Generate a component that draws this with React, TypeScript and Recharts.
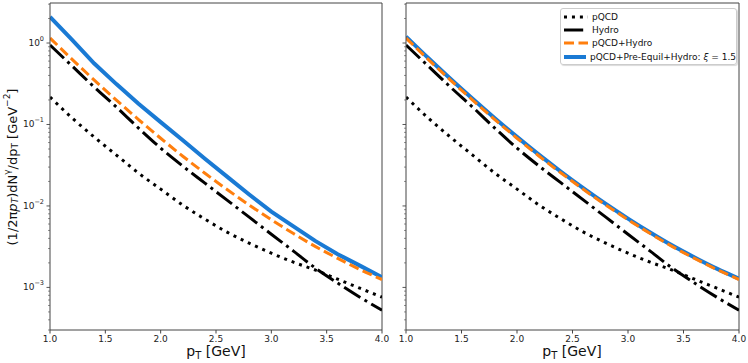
import React from 'react';
import { LineChart, Line, XAxis, YAxis, ReferenceLine } from 'recharts';

// photon spectra, pT in GeV
const pT = [1.0, 1.2, 1.4, 1.6, 1.8, 2.0, 2.2, 2.4, 2.6, 2.8, 3.0, 3.2, 3.4, 3.6, 3.8, 4.0];
const pqcd = [0.217, 0.12, 0.07, 0.0421, 0.0253, 0.0161, 0.01023, 0.00689, 0.00477, 0.00349, 0.00263, 0.00204, 0.00163, 0.00126, 0.000978, 0.000758];
const hydro = [0.945, 0.522, 0.288, 0.1636, 0.0903, 0.0513, 0.0308, 0.01905, 0.01178, 0.00728, 0.0045, 0.00279, 0.00172, 0.00113, 0.000758, 0.000525];
const pqcdHydro = [1.151, 0.63, 0.351, 0.199, 0.115, 0.0678, 0.0408, 0.0252, 0.0159, 0.01026, 0.00678, 0.00458, 0.00317, 0.00227, 0.00166, 0.00125];
const preEquilLeft = [2.09, 1.09, 0.56, 0.313, 0.18, 0.107, 0.064, 0.038, 0.0229, 0.0138, 0.0085, 0.0056, 0.0037, 0.00256, 0.00185, 0.00133];
const preEquilRight = [1.2, 0.655, 0.365, 0.207, 0.1195, 0.0704, 0.0423, 0.0261, 0.01645, 0.0106, 0.007, 0.00472, 0.00326, 0.00233, 0.0017, 0.00128];

const xTicks = [1.0, 1.5, 2.0, 2.5, 3.0, 3.5, 4.0];
const yTicks = [
  0.0003, 0.0004, 0.0005, 0.0006, 0.0007, 0.0008, 0.0009,
  0.001, 0.002, 0.003, 0.004, 0.005, 0.006, 0.007, 0.008, 0.009,
  0.01, 0.02, 0.03, 0.04, 0.05, 0.06, 0.07, 0.08, 0.09,
  0.1, 0.2, 0.3, 0.4, 0.5, 0.6, 0.7, 0.8, 0.9,
  1, 2, 3,
];
const yDomain = [0.0003, 3.1];

const FONT = '"DejaVu Sans", sans-serif';
const BLUE = '#1a7ad4';
const ORANGE = '#ff7f0e';
const AXIS = '#444';

const YTick = (props: any) => {
  const { x, y, payload, showLabel } = props;
  const lg = Math.log10(payload.value);
  const exp = Math.round(lg);
  const major = Math.abs(lg - exp) < 1e-6;
  const len = major ? 3.5 : 2;
  return (
    <g>
      <line x1={x} x2={x - len} y1={y} y2={y} stroke={AXIS} strokeWidth={major ? 0.9 : 0.6} />
      {major && showLabel && (
        <text x={x - 6} y={y + 3} textAnchor="end" fontSize={9} fill="#222" fontFamily={FONT}>
          10
          <tspan dy={-5} fontSize={6.5}>
            {exp === 0 ? '0' : '\u2212' + Math.abs(exp)}
          </tspan>
        </text>
      )}
    </g>
  );
};

function Panel({ blue, showYLabels, width, marginRight, blueType }: any) {
  const data = pT.map((x, i) => ({
    x,
    pqcd: pqcd[i],
    hydro: hydro[i],
    pqcdHydro: pqcdHydro[i],
    preEquil: blue[i],
  }));
  return (
    <LineChart width={width} height={363} data={data} margin={{ top: 3, right: marginRight, bottom: 0, left: 0 }}>
      <XAxis
        dataKey="x"
        type="number"
        domain={[1, 4]}
        ticks={xTicks}
        interval={0}
        allowDataOverflow
        tickFormatter={(v: number) => v.toFixed(1)}
        height={33}
        stroke={AXIS}
        tickSize={3.5}
        tickMargin={2}
        tick={{ fontSize: 9, fill: '#222', fontFamily: FONT }}
      />
      <YAxis
        type="number"
        scale="log"
        domain={yDomain}
        ticks={yTicks}
        interval={0}
        allowDataOverflow
        width={50}
        stroke={AXIS}
        tickLine={false}
        tickSize={0}
        tickMargin={0}
        tick={<YTick showLabel={showYLabels} />}
      />
      <ReferenceLine y={3.1} stroke={AXIS} ifOverflow="visible" />
      <ReferenceLine x={4} stroke={AXIS} ifOverflow="visible" />
      <Line type={blueType} dataKey="preEquil" stroke={BLUE} strokeWidth={4} dot={false} isAnimationActive={false} />
      <Line type="monotone" dataKey="pqcdHydro" stroke={ORANGE} strokeWidth={3} strokeDasharray="10 4.5" dot={false} isAnimationActive={false} />
      <Line type="monotone" dataKey="hydro" stroke="#000" strokeWidth={3} strokeDasharray="19.2 4.8 3 4.8" dot={false} isAnimationActive={false} />
      <Line type="monotone" dataKey="pqcd" stroke="#000" strokeWidth={3} strokeDasharray="3 4.95" dot={false} isAnimationActive={false} />
    </LineChart>
  );
}

const legendItems = [
  { label: 'pQCD', color: '#000', dash: '3 4.95', width: 3 },
  { label: 'Hydro', color: '#000', dash: '19.2 4.8 3 4.8', width: 3 },
  { label: 'pQCD+Hydro', color: ORANGE, dash: '10 4.5', width: 3 },
  { label: 'pQCD+Pre-Equil+Hydro: ', color: BLUE, dash: undefined, width: 4 },
];

export default function App() {
  return (
    <div style={{ position: 'absolute', left: 0, top: 0, width: 748, height: 363, background: '#fff', fontFamily: FONT }}>
      <div style={{ position: 'absolute', left: 0, top: 0 }}>
        <Panel blue={preEquilLeft} showYLabels width={396} marginRight={14} blueType="linear" />
      </div>
      <div style={{ position: 'absolute', left: 356, top: 0 }}>
        <Panel blue={preEquilRight} showYLabels={false} width={392} marginRight={9} blueType="monotone" />
      </div>

      <svg width={30} height={363} style={{ position: 'absolute', left: 0, top: 0 }}>
        <text x={12} y={167} transform="rotate(-90 12 167)" textAnchor="middle" dominantBaseline="central" fontSize={13} fill="#111" fontFamily={FONT}>
          (1/2π<tspan fontStyle="italic">p</tspan>
          <tspan dy={3} fontSize={9} fontStyle="italic">T</tspan>
          <tspan dy={-3}>)dN</tspan>
          <tspan dy={-5} fontSize={9}>γ</tspan>
          <tspan dy={5}>/dp</tspan>
          <tspan dy={3} fontSize={9}>T</tspan>
          <tspan dy={-3}> [GeV</tspan>
          <tspan dy={-5} fontSize={9}>−2</tspan>
          <tspan dy={5}>]</tspan>
        </text>
      </svg>

      {[216, 572].map((cx) => (
        <div key={cx} style={{ position: 'absolute', left: cx - 50, width: 100, top: 343, textAlign: 'center', fontSize: 14, color: '#111', lineHeight: '16px' }}>
          p<sub style={{ fontSize: 10, verticalAlign: '-3px' }}>T</sub> [GeV]
        </div>
      ))}

      <div
        style={{
          position: 'absolute',
          left: 560,
          top: 8,
          width: 177,
          height: 57,
          boxSizing: 'border-box',
          border: '1px solid #ccc',
          borderRadius: 3,
          background: 'rgba(255,255,255,0.9)',
          boxShadow: '1px 1px 1px rgba(0,0,0,0.15)',
          padding: '1px 0 0 3px',
        }}
      >
        {legendItems.map((it) => (
          <div key={it.label} style={{ height: 13.3, display: 'flex', alignItems: 'center', fontSize: 9, color: '#111', whiteSpace: 'nowrap' }}>
            <svg width={24} height={8} style={{ marginRight: 4 }}>
              <line x1={0} x2={24} y1={4} y2={4} stroke={it.color} strokeWidth={it.width} strokeDasharray={it.dash} />
            </svg>
            <span>
              {it.label}
              {it.color === BLUE && (
                <>
                  <i>ξ</i> = 1.5
                </>
              )}
            </span>
          </div>
        ))}
      </div>
    </div>
  );
}
